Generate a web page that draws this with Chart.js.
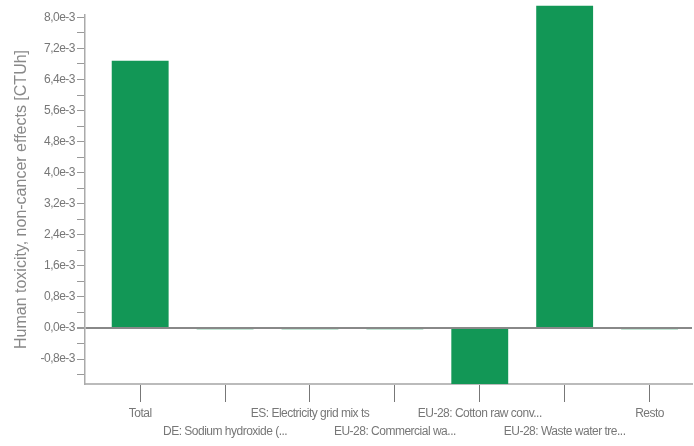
<!DOCTYPE html>
<html>
<head>
<meta charset="utf-8">
<script src="https://cdn.jsdelivr.net/npm/chart.js@4"></script>
<style>
  html, body { margin: 0; padding: 0; background: #fff; }
  #wrap { width: 694px; height: 446px; }
</style>
</head>
<body>
<div id="wrap"><canvas id="impact"></canvas></div>
<script>
let categories = [
  "Total",
  "DE: Sodium hydroxide (...",
  "ES: Electricity grid mix ts",
  "EU-28: Commercial wa...",
  "EU-28: Cotton raw conv...",
  "EU-28: Waste water tre...",
  "Resto"
];
let values = [6.88e-3, -0.03e-3, -0.03e-3, -0.03e-3, -1.44e-3, 8.30e-3, -0.03e-3];

let yTickValues = [-0.8e-3, 0, 0.8e-3, 1.6e-3, 2.4e-3, 3.2e-3, 4.0e-3, 4.8e-3, 5.6e-3, 6.4e-3, 7.2e-3, 8.0e-3];
let yTickLabels = ["-0,8e-3", "0,0e-3", "0,8e-3", "1,6e-3", "2,4e-3", "3,2e-3", "4,0e-3", "4,8e-3", "5,6e-3", "6,4e-3", "7,2e-3", "8,0e-3"];

let yMin = -1.44e-3;
let yMax = 8.06e-3;

function majorIndex(v) {
  return yTickValues.findIndex(function (t) { return Math.abs(t - v) < 1e-9; });
}

let tickFont = { family: "'Liberation Sans', Arial, sans-serif", size: 12, lineHeight: 1.5 };

new Chart(document.getElementById("impact"), {
  type: "bar",
  data: {
    datasets: [
      {
        data: values.map(function (v, i) { return { x: i, y: v }; }),
        backgroundColor: "#129756",
        barPercentage: 0.67,
        categoryPercentage: 1,
        clip: false
      }
    ]
  },
  options: {
    responsive: true,
    maintainAspectRatio: false,
    animation: false,
    layout: { padding: { top: 15, right: 2, left: 0, bottom: 0 } },
    plugins: {
      legend: { display: false },
      tooltip: { enabled: false }
    },
    scales: {
      x: {
        type: "linear",
        offset: false,
        min: -0.65,
        max: 6.5,
        afterFit: function (s) { s.height = 62; },
        grid: { offset: false, drawOnChartArea: false, tickLength: 18, tickColor: "#777", tickWidth: 1 },
        border: { color: "#bbb", width: 2 },
        ticks: {
          stepSize: 1,
          includeBounds: false,
          autoSkip: false,
          maxRotation: 0,
          padding: 3,
          color: "#777",
          font: tickFont,
          callback: function (v) {
            if (!Number.isInteger(v) || v < 0 || v >= categories.length) return "";
            return v % 2 ? ["", categories[v]] : categories[v];
          }
        }
      },
      y: {
        min: yMin,
        max: yMax,
        afterFit: function (s) { s.width = 85; },
        grid: {
          z: 1,
          color: function (ctx) {
            return ctx.tick && Math.abs(ctx.tick.value) < 1e-9 ? "#888" : "rgba(0,0,0,0)";
          },
          lineWidth: function (ctx) {
            return ctx.tick && Math.abs(ctx.tick.value) < 1e-9 ? 2 : 1;
          },
          tickColor: "#999",
          tickLength: 8
        },
        border: { color: "#aaa", width: 1.5, z: 1 },
        ticks: {
          stepSize: 0.4e-3,
          includeBounds: false,
          autoSkip: false,
          padding: 2,
          color: "#777",
          font: tickFont,
          callback: function (v) {
            let i = majorIndex(v);
            return i >= 0 ? yTickLabels[i] : "";
          }
        },
        title: {
          display: true,
          text: "Human toxicity, non-cancer effects [CTUh]",
          color: "#888",
          font: { family: "'Liberation Sans', Arial, sans-serif", size: 16 },
          padding: { top: 12, bottom: 0 }
        }
      }
    }
  },
  plugins: [
    {
      id: "tightText",
      beforeDraw: function (chart) { chart.ctx.letterSpacing = "-0.5px"; },
      afterDatasetsDraw: function (chart) { chart.ctx.letterSpacing = "0px"; }
    }
  ]
});
</script>
</body>
</html>
